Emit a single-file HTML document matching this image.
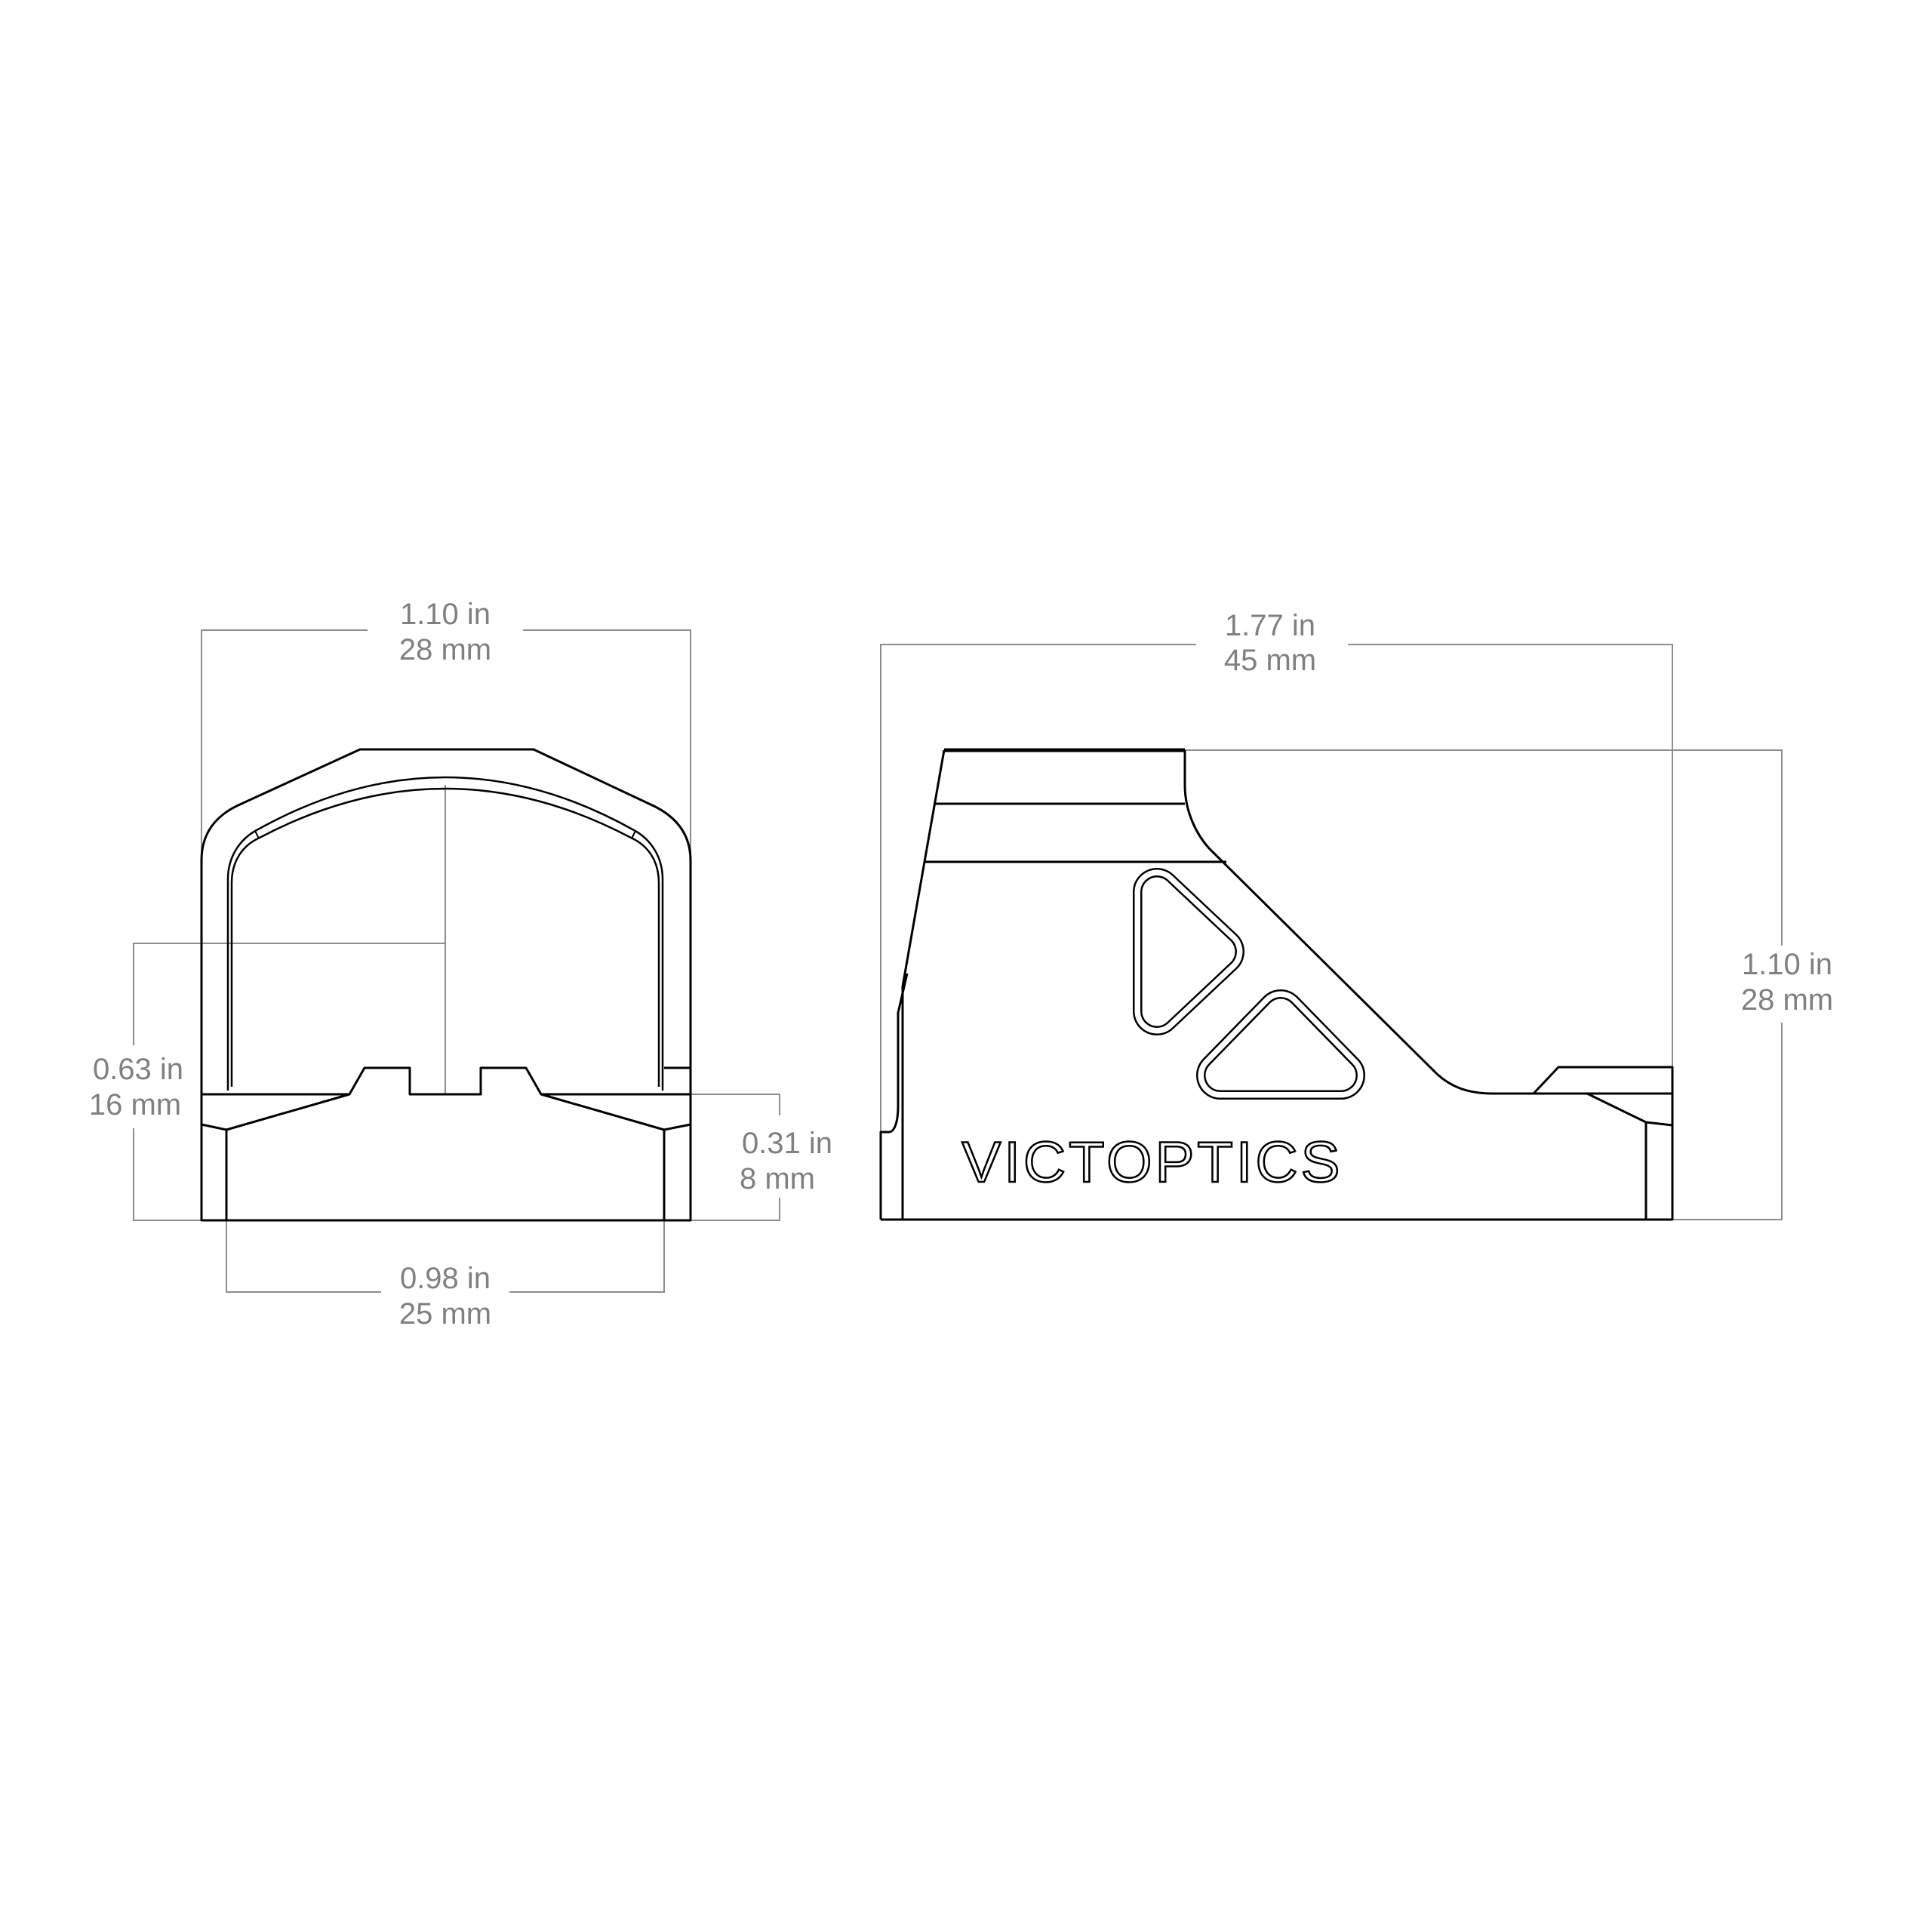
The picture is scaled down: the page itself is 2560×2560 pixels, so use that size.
<!DOCTYPE html>
<html><head><meta charset="utf-8"><style>
html,body{margin:0;padding:0;background:#fff;}
svg{display:block}
text{font-family:"Liberation Sans",sans-serif;fill:#808080;font-size:40px;text-anchor:middle}
</style></head><body>
<svg width="2560" height="2560" viewBox="0 0 2560 2560" xmlns="http://www.w3.org/2000/svg">
<rect width="2560" height="2560" fill="#fff"/>
<!-- ============ FRONT VIEW ============ -->
<g stroke="#8c8c8c" stroke-width="2" fill="none">
  <path d="M267 1150 V835 H487 M693 835 H915 V1150"/>
  <path d="M590 1040 V1450"/>
  <path d="M590 1250 H177 V1385 M177 1495 V1617 H320"/>
  <path d="M915 1450 H1033 V1478 M1033 1587 V1617 H915"/>
  <path d="M300 1617 V1712 H505 M675 1712 H880 V1617"/>
</g>
<text x="590" y="827">1.10 in</text>
<text x="590" y="874">28 mm</text>
<text x="183" y="1430">0.63 in</text>
<text x="179" y="1477">16 mm</text>
<text x="1043" y="1528">0.31 in</text>
<text x="1030" y="1575">8 mm</text>
<text x="590" y="1707">0.98 in</text>
<text x="590" y="1754">25 mm</text>
<g stroke="#000" stroke-width="3" fill="none" stroke-linejoin="round">
  <path d="M267 1617 V1140 C267 1100 290 1078 320 1065 L477 993 H707 L860 1065 C890 1078 915 1100 915 1140 V1617 Z"/>
  <path d="M267 1450 H463 L483 1415 H543 V1450 H637 V1415 H697 L717 1450 H915"/>
  <path d="M463 1450 L300 1497 L267 1490 M717 1450 L880 1497 L915 1490"/>
  <path d="M300 1497 V1617 M880 1497 V1617"/>
  <path d="M880 1415 H915"/>
  <path d="M302 1445 V1165 C302 1135 318 1112 340 1100 Q590 960 840 1100 C862 1112 878 1135 878 1165 V1445" stroke-width="2.5"/>
  <path d="M307 1440 V1170 C307 1140 322 1120 344 1110 Q590 980 836 1110 C858 1120 873 1140 873 1170 V1440" stroke-width="2.5"/>
  <path d="M338 1101 L343 1111 M842 1101 L837 1111" stroke-width="2"/>
</g>
<!-- ============ SIDE VIEW ============ -->
<g stroke="#8c8c8c" stroke-width="2" fill="none">
  <path d="M1167 1500 V854 H1585 M1786 854 H2216 V1414"/>
  <path d="M1570 994 H2361 V1253 M2361 1355 V1616 H2216"/>
</g>
<text x="1683" y="842">1.77 in</text>
<text x="1683" y="888">45 mm</text>
<text x="2368" y="1291">1.10 in</text>
<text x="2368" y="1338">28 mm</text>
<g stroke="#000" stroke-width="3" fill="none" stroke-linejoin="round">
  <path d="M1251 994 H1570" stroke-width="5"/>
  <path d="M1251 994 L1196 1307 V1616"/>
  <path d="M1202 1290 L1190 1342 V1465 C1190 1490 1184 1500 1178 1500 H1167 V1616"/>
  <path d="M1167 1616 H2216 V1414 H2065 L2032 1449"/>
  <path d="M1239 1065 H1570 M1226 1142 H1625"/>
  <path d="M1570 994 V1040 C1570 1075 1585 1105 1602 1124 L1900 1419 C1920 1440 1945 1449 1978 1449 H2216"/>
  <path d="M2103 1449 L2181 1487 L2216 1491 M2181 1487 V1616"/>
</g>
<g stroke-linejoin="round" fill="none">
  <polygon points="1533,1182 1533,1340 1617,1261" stroke="#000" stroke-width="64"/>
  <polygon points="1533,1182 1533,1340 1617,1261" stroke="#fff" stroke-width="59" fill="#fff"/>
  <polygon points="1533,1182 1533,1340 1617,1261" stroke="#000" stroke-width="44"/>
  <polygon points="1533,1182 1533,1340 1617,1261" stroke="#fff" stroke-width="39" fill="#fff"/>
  <polygon points="1617,1425 1777,1425 1697,1343" stroke="#000" stroke-width="64"/>
  <polygon points="1617,1425 1777,1425 1697,1343" stroke="#fff" stroke-width="59" fill="#fff"/>
  <polygon points="1617,1425 1777,1425 1697,1343" stroke="#000" stroke-width="44"/>
  <polygon points="1617,1425 1777,1425 1697,1343" stroke="#fff" stroke-width="39" fill="#fff"/>
</g>
<text x="1527" y="1566" textLength="505" lengthAdjust="spacingAndGlyphs" style="font-size:76px;fill:#fff;stroke:#000;stroke-width:2.5;letter-spacing:4px">VICTOPTICS</text>
</svg>
</body></html>
